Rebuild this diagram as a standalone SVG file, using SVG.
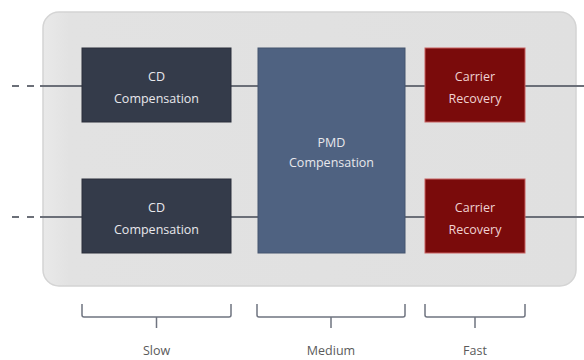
<svg xmlns="http://www.w3.org/2000/svg" width="584" height="360" viewBox="0 0 584 360">
<defs>
<style>
.lbl{font-family:"Open Sans","Noto Sans","Liberation Sans",sans-serif;font-size:12.5px;text-anchor:middle;}
.box-text{fill:#e8e8ec;}
.cr-text{fill:#efd2d2;}
.cd{fill:#343b4a;stroke:#2a2f3a;stroke-width:1;}
.pmd{fill:#4f6281;stroke:#44546f;stroke-width:1;}
.cr{fill:#7a0b0b;stroke:#c86060;stroke-width:1;}
.wire{stroke:#6b6f78;stroke-width:2;fill:none;}
.dash{stroke:#6b6f78;stroke-width:2;fill:none;stroke-dasharray:7 8;}
.br{stroke:#6f7480;stroke-width:1.5;fill:none;}
.cap{fill:#5a5a5a;}
</style>
<linearGradient id="bg" x1="0" y1="0" x2="1" y2="0">
<stop offset="0" stop-color="#e9e9e9"/>
<stop offset="0.05" stop-color="#e2e2e2"/>
<stop offset="1" stop-color="#e0e0e0"/>
</linearGradient>
</defs>
<rect width="584" height="360" fill="#ffffff"/>
<g id="container">
<rect x="43" y="12" width="533" height="274" rx="16" fill="url(#bg)" stroke="#d4d4d4" stroke-width="1.5"/>
</g>
<g id="connectors">
<path class="dash" d="M12 86 H40"/>
<path class="wire" d="M40 86 H82"/>
<path class="wire" d="M231 86 H258"/>
<path class="wire" d="M405 86 H425"/>
<path class="wire" d="M525 86 H584"/>
<path class="dash" d="M12 217 H40"/>
<path class="wire" d="M40 217 H82"/>
<path class="wire" d="M231 217 H258"/>
<path class="wire" d="M405 217 H425"/>
<path class="wire" d="M525 217 H584"/>
</g>
<g id="cd1">
<rect class="cd" x="82" y="48" width="149" height="74"/>
<text class="lbl box-text" x="156.5" y="81">CD</text>
<text class="lbl box-text" x="156.5" y="103">Compensation</text>
</g>
<g id="cd2">
<rect class="cd" x="82" y="179" width="149" height="74"/>
<text class="lbl box-text" x="156.5" y="212">CD</text>
<text class="lbl box-text" x="156.5" y="234">Compensation</text>
</g>
<g id="pmd">
<rect class="pmd" x="258" y="48" width="147" height="205"/>
<text class="lbl box-text" x="331.5" y="147">PMD</text>
<text class="lbl box-text" x="331.5" y="167">Compensation</text>
</g>
<g id="cr1">
<rect class="cr" x="425" y="48" width="100" height="74"/>
<text class="lbl cr-text" x="475" y="81">Carrier</text>
<text class="lbl cr-text" x="475" y="103">Recovery</text>
</g>
<g id="cr2">
<rect class="cr" x="425" y="179" width="100" height="74"/>
<text class="lbl cr-text" x="475" y="212">Carrier</text>
<text class="lbl cr-text" x="475" y="234">Recovery</text>
</g>
<g id="slow">
<path class="br" d="M82 304 V315 Q82 317 84 317 H229 Q231 317 231 315 V304 M156.5 317 V328"/>
<text class="lbl cap" x="156.5" y="355">Slow</text>
</g>
<g id="medium">
<path class="br" d="M257 304 V315 Q257 317 259 317 H403 Q405 317 405 315 V304 M331 317 V328"/>
<text class="lbl cap" x="331" y="355">Medium</text>
</g>
<g id="fast">
<path class="br" d="M425 304 V315 Q425 317 427 317 H523 Q525 317 525 315 V304 M475 317 V328"/>
<text class="lbl cap" x="475" y="355">Fast</text>
</g>
</svg>
